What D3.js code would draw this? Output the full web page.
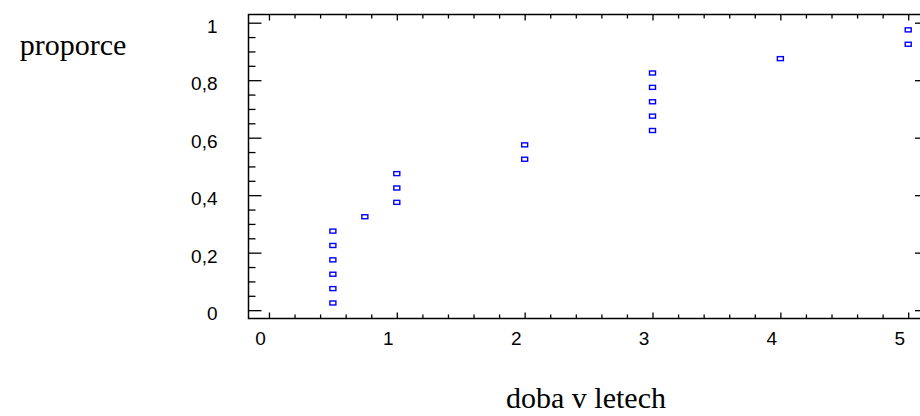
<!DOCTYPE html>
<html>
<head>
<meta charset="utf-8">
<script src="https://cdn.jsdelivr.net/npm/d3@7"></script>
<style>
  html, body { margin: 0; padding: 0; background: #fff; }
  svg { display: block; }
</style>
</head>
<body>
<script>
// ---- data ----
const doba = [0.5, 0.5, 0.5, 0.5, 0.5, 0.5, 0.75, 1, 1, 1, 2, 2, 3, 3, 3, 3, 3, 4, 5, 5];
const proporce = [0.025, 0.075, 0.125, 0.175, 0.225, 0.275, 0.325, 0.375, 0.425, 0.475,
                  0.525, 0.575, 0.625, 0.675, 0.725, 0.775, 0.825, 0.875, 0.925, 0.975];
const xTickValues = [0, 1, 2, 3, 4, 5];
const xTickLabels = ["0", "1", "2", "3", "4", "5"];
const yTickValues = [0, 0.2, 0.4, 0.6, 0.8, 1];
const yTickLabels = ["0", "0,2", "0,4", "0,6", "0,8", "1"];
const xLabel = "doba v letech";
const yLabel = "proporce";

const W = 920, H = 416;
const L = 248.5, R = 921, T = 14.5, B = 318.5;

const svg = d3.select("body").append("svg").attr("width", W).attr("height", H);

const x = d3.scaleLinear().domain([-0.16, 5.1]).range([L, R]);
const y = d3.scaleLinear().domain([-0.029, 1.0285]).range([B, T]);

const xMinor = d3.range(0, 26).map(i => i * 0.2).filter(v => Math.abs(v - Math.round(v)) > 1e-6);
const yMinor = d3.range(0, 21).map(i => i * 0.05).filter(v => Math.abs(v * 5 - Math.round(v * 5)) > 1e-6);

function styleAxis(g) {
  g.selectAll("path.domain").remove();
  g.selectAll("line").attr("stroke", "#000").attr("stroke-width", 1.3);
  g.selectAll("text").remove();
}

// frame
svg.append("rect").attr("x", L).attr("y", T).attr("width", R - L).attr("height", B - T)
  .attr("fill", "none").attr("stroke", "#000").attr("stroke-width", 1.5);

// bottom ticks (inward)
svg.append("g").attr("transform", `translate(0,${B})`)
  .call(d3.axisBottom(x).tickValues(xTickValues).tickSize(-6)).call(styleAxis);
svg.append("g").attr("transform", `translate(0,${B})`)
  .call(d3.axisBottom(x).tickValues(xMinor).tickSize(-4)).call(styleAxis);
// top ticks (inward)
svg.append("g").attr("transform", `translate(0,${T})`)
  .call(d3.axisTop(x).tickValues(xTickValues).tickSize(-6)).call(styleAxis);
svg.append("g").attr("transform", `translate(0,${T})`)
  .call(d3.axisTop(x).tickValues(xMinor).tickSize(-4)).call(styleAxis);
// left ticks (inward)
svg.append("g").attr("transform", `translate(${L},0)`)
  .call(d3.axisLeft(y).tickValues(yTickValues).tickSize(-13)).call(styleAxis);
svg.append("g").attr("transform", `translate(${L},0)`)
  .call(d3.axisLeft(y).tickValues(yMinor).tickSize(-7)).call(styleAxis);
// right ticks (inward, major only)
svg.append("g").attr("transform", `translate(${R},0)`)
  .call(d3.axisRight(y).tickValues(yTickValues).tickSize(-6)).call(styleAxis);

// tick labels
const xl = svg.append("g").attr("transform", `translate(0,${B})`)
  .call(d3.axisBottom(x).tickValues(xTickValues).tickSize(0).tickPadding(0)
    .tickFormat((d, i) => xTickLabels[i]));
xl.select("path.domain").remove();
xl.selectAll("text").attr("font-family", "Liberation Sans, Arial, sans-serif")
  .attr("font-size", 19).attr("fill", "#000").attr("dy", null).attr("y", 26).attr("dx", -9);

const yl = svg.append("g").attr("transform", `translate(${L},0)`)
  .call(d3.axisLeft(y).tickValues(yTickValues).tickSize(0).tickPadding(0)
    .tickFormat((d, i) => yTickLabels[i]));
yl.select("path.domain").remove();
yl.selectAll("text").attr("font-family", "Liberation Sans, Arial, sans-serif")
  .attr("font-size", 19).attr("fill", "#000").attr("x", -31).attr("dy", "0.5em");

// axis titles
svg.append("text").attr("x", 586).attr("y", 408).attr("text-anchor", "middle")
  .attr("font-family", "Liberation Serif, Times New Roman, serif").attr("font-size", 30)
  .attr("fill", "#000").text(xLabel);
svg.append("text").attr("x", 73).attr("y", 55).attr("text-anchor", "middle")
  .attr("font-family", "Liberation Serif, Times New Roman, serif").attr("font-size", 30)
  .attr("fill", "#000").text(yLabel);

// points
svg.append("g").selectAll("rect").data(doba).join("rect")
  .attr("x", (d) => x(d) - 3)
  .attr("y", (d, i) => y(proporce[i]) - 2)
  .attr("width", 6).attr("height", 4)
  .attr("fill", "none").attr("stroke", "#0000ff").attr("stroke-width", 1.4);
</script>
</body>
</html>
